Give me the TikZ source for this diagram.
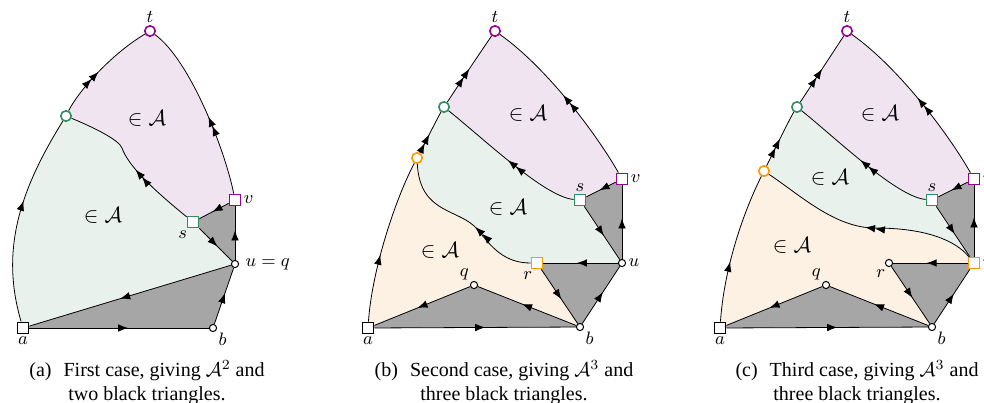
\documentclass[tikz,border=0pt]{standalone}
\usepackage[no-math]{fontspec}
\setmainfont{Liberation Serif}
\usepackage{amsmath,amssymb}
\usetikzlibrary{arrows.meta,decorations.markings,backgrounds}
\definecolor{plum}{HTML}{990099}
\definecolor{leaf}{HTML}{2E9060}
\definecolor{amber}{HTML}{FF9900}
\definecolor{lilac}{HTML}{F0E4F1}
\definecolor{mint}{HTML}{E8F1EB}
\definecolor{peach}{HTML}{FDF1E3}
\definecolor{ashgray}{HTML}{A6A6A6}
\tikzset{>={Latex[length=5pt,width=3.8pt]}, ring/.style={circle,draw=#1,fill=white,line width=0.8pt,inner sep=0pt,minimum size=5.2pt}, box/.style={rectangle,draw=#1,fill=white,line width=0.8pt,inner sep=0pt,minimum size=5.6pt}, dot/.style={circle,draw,fill=white,inner sep=0pt,minimum size=3.6pt,line width=0.5pt}, flow/.style={postaction={decorate},decoration={markings,mark=at position #1 with {\arrow{>}}}}, flow/.default=0.55, dflow/.style={postaction={decorate},decoration={markings,mark=at position #1 with {\arrow{>>}}}}, dflow/.default=0.5, lbl/.style={font=\small,inner sep=1pt}, member/.style={font=\fontsize{11}{13}\selectfont}, caption/.style={align=center,anchor=north,inner sep=0pt,font=\normalsize}}

\begin{document}
\begin{tikzpicture}[x=0.5pt,y=0.5pt]
\useasboundingbox (0,0) rectangle (984,-402);
\node[box=black,label={[lbl]below:$a$}] (a1) at (23,-328) {};
\node[dot,label={[lbl]-40:$b$}] (b1) at (213,-328) {};
\node[dot,label={[lbl,label distance=2pt]right:$u=q$}] (u1) at (235,-264) {};
\node[box=plum,label={[lbl]right:$v$}] (v1) at (235,-200) {};
\node[box=leaf,label={[lbl]-120:$s$}] (s1) at (193,-222) {};
\node[ring=leaf] (g1) at (66,-116) {};
\node[ring=plum,label={[lbl]above:$t$}] (t1) at (150,-31) {};
\begin{scope}[on background layer]
\fill[lilac] (g1.center) .. controls (78,-92) and (110,-55) .. (t1.center) .. controls (190,-60) and (225,-150) .. (v1.center) -- (s1.center) .. controls (150,-187) and (128,-165) .. (122,-148) .. controls (119,-140) and (95,-128) .. (g1.center);
\fill[mint] (a1.center) .. controls (0,-250) and (20,-190) .. (g1.center) .. controls (95,-128) and (119,-140) .. (122,-148) .. controls (128,-165) and (150,-187) .. (s1.center) -- (u1.center) -- cycle;
\fill[ashgray] (s1.center) -- (v1.center) -- (u1.center) -- cycle;
\fill[ashgray] (a1.center) -- (b1.center) -- (u1.center) -- cycle;
\end{scope}
\draw[flow=0.58] (a1) .. controls (0,-250) and (20,-190) .. (g1);
\draw[dflow=0.45] (g1) .. controls (78,-92) and (110,-55) .. (t1);
\draw[dflow=0.45] (v1) .. controls (225,-150) and (190,-60) .. (t1);
\draw[dflow=0.45] (s1) .. controls (150,-187) and (128,-165) .. (122,-148) .. controls (119,-140) and (95,-128) .. (g1);
\draw[flow] (s1) -- (u1);
\draw[flow] (u1) -- (v1);
\draw[flow] (v1) -- (s1);
\draw[flow] (u1) -- (a1);
\draw[flow] (a1) -- (b1);
\draw[flow] (b1) -- (u1);
\node[member] (m1) at (147,-118) {$\in\mathcal{A}$};
\node[member] (m2) at (103,-215) {$\in\mathcal{A}$};
\node[caption] (cap1) at (147,-360) {(a)\hspace{6pt}First case, giving $\mathcal{A}^2$ and\\two black triangles.};

\node[box=black,label={[lbl]below:$a$}] (a2) at (368,-328) {};
\node[dot,label={[lbl]-40:$b$}] (b2) at (580,-327) {};
\node[dot,label={[lbl]135:$q$}] (q2) at (474,-285) {};
\node[box=amber,label={[lbl]-110:$r$}] (r2) at (537,-263) {};
\node[dot,label={[lbl]right:$u$}] (u2) at (622,-263) {};
\node[box=leaf,label={[lbl]above:$s$}] (s2) at (580,-200) {};
\node[box=plum,label={[lbl]right:$v$}] (v2) at (622,-179) {};
\node[ring=amber] (o2) at (417,-158) {};
\node[ring=leaf] (g2) at (444,-107) {};
\node[ring=plum,label={[lbl]above:$t$}] (t2) at (495,-31) {};
\begin{scope}[on background layer]
\fill[lilac] (g2.center) .. controls (452,-95) and (475,-60) .. (t2.center) .. controls (550,-70) and (600,-140) .. (v2.center) -- (s2.center) .. controls (545,-197) and (485,-140) .. (g2.center);
\fill[mint] (o2.center) .. controls (425,-143) and (438,-117) .. (g2.center) .. controls (485,-140) and (545,-197) .. (s2.center) -- (u2.center) -- (r2.center) .. controls (505,-263) and (492,-248) .. (478,-230) .. controls (460,-208) and (420,-215) .. (o2.center);
\fill[peach] (a2.center) .. controls (372,-270) and (395,-200) .. (o2.center) .. controls (420,-215) and (460,-208) .. (478,-230) .. controls (492,-248) and (505,-263) .. (r2.center) -- (b2.center) -- (q2.center) -- cycle;
\fill[ashgray] (s2.center) -- (v2.center) -- (u2.center) -- cycle;
\fill[ashgray] (r2.center) -- (u2.center) -- (b2.center) -- cycle;
\fill[ashgray] (a2.center) -- (b2.center) -- (q2.center) -- cycle;
\end{scope}
\draw[flow=0.41] (a2) .. controls (372,-270) and (395,-200) .. (o2);
\draw[dflow=0.45] (o2) .. controls (425,-143) and (438,-117) .. (g2);
\draw[dflow] (g2) .. controls (452,-95) and (475,-60) .. (t2);
\draw[dflow=0.52] (v2) .. controls (600,-140) and (550,-70) .. (t2);
\draw[dflow] (s2) .. controls (545,-197) and (485,-140) .. (g2);
\draw[dflow=0.43] (r2) .. controls (505,-263) and (492,-248) .. (478,-230) .. controls (460,-208) and (420,-215) .. (o2);
\draw[flow] (s2) -- (u2);
\draw[flow] (u2) -- (v2);
\draw[flow] (v2) -- (s2);
\draw[flow] (u2) -- (r2);
\draw[flow] (r2) -- (b2);
\draw[flow] (b2) -- (u2);
\draw[flow] (b2) -- (q2);
\draw[flow] (q2) -- (a2);
\draw[flow] (a2) -- (b2);
\node[member] (m3) at (528,-113) {$\in\mathcal{A}$};
\node[member] (m4) at (508,-207) {$\in\mathcal{A}$};
\node[member] (m5) at (440,-250) {$\in\mathcal{A}$};
\node[caption] (cap2) at (504,-360) {(b)\hspace{6pt}Second case, giving $\mathcal{A}^3$ and\\three black triangles.};

\node[box=black,label={[lbl]below:$a$}] (a3) at (720,-328) {};
\node[dot,label={[lbl]-40:$b$}] (b3) at (932,-327) {};
\node[dot,label={[lbl]135:$q$}] (q3) at (826,-285) {};
\node[dot,label={[lbl]-110:$r$}] (r3) at (889,-263) {};
\node[box=amber,label={[lbl]right:$u$}] (u3) at (974,-263) {};
\node[box=leaf,label={[lbl]above:$s$}] (s3) at (932,-200) {};
\node[box=plum,label={[lbl]right:$v$}] (v3) at (974,-179) {};
\node[ring=amber] (o3) at (764,-171) {};
\node[ring=leaf] (g3) at (797,-107) {};
\node[ring=plum,label={[lbl]above:$t$}] (t3) at (847,-31) {};
\begin{scope}[on background layer]
\fill[lilac] (g3.center) .. controls (805,-95) and (828,-60) .. (t3.center) .. controls (902,-70) and (952,-140) .. (v3.center) -- (s3.center) .. controls (897,-197) and (838,-140) .. (g3.center);
\fill[mint] (o3.center) .. controls (771,-157) and (790,-118) .. (g3.center) .. controls (838,-140) and (897,-197) .. (s3.center) -- (u3.center) .. controls (955,-240) and (925,-228) .. (875,-228) .. controls (835,-228) and (800,-195) .. (o3.center);
\fill[peach] (a3.center) .. controls (724,-270) and (742,-215) .. (o3.center) .. controls (800,-195) and (835,-228) .. (875,-228) .. controls (925,-228) and (955,-240) .. (u3.center) -- (b3.center) -- (q3.center) -- cycle;
\fill[ashgray] (s3.center) -- (v3.center) -- (u3.center) -- cycle;
\fill[ashgray] (r3.center) -- (u3.center) -- (b3.center) -- cycle;
\fill[ashgray] (a3.center) -- (b3.center) -- (q3.center) -- cycle;
\end{scope}
\draw[flow=0.4] (a3) .. controls (724,-270) and (742,-215) .. (o3);
\draw[dflow] (o3) .. controls (771,-157) and (790,-118) .. (g3);
\draw[dflow] (g3) .. controls (805,-95) and (828,-60) .. (t3);
\draw[dflow] (v3) .. controls (952,-140) and (902,-70) .. (t3);
\draw[dflow] (s3) .. controls (897,-197) and (838,-140) .. (g3);
\draw[dflow] (u3) .. controls (955,-240) and (925,-228) .. (875,-228) .. controls (835,-228) and (800,-195) .. (o3);
\draw[flow] (s3) -- (u3);
\draw[flow] (u3) -- (v3);
\draw[flow] (v3) -- (s3);
\draw[flow] (u3) -- (r3);
\draw[flow] (r3) -- (b3);
\draw[flow] (b3) -- (u3);
\draw[flow] (b3) -- (q3);
\draw[flow] (q3) -- (a3);
\draw[flow] (a3) -- (b3);
\node[member] (m6) at (880,-113) {$\in\mathcal{A}$};
\node[member] (m7) at (830,-177) {$\in\mathcal{A}$};
\node[member] (m8) at (792,-245) {$\in\mathcal{A}$};
\node[caption] (cap3) at (857,-360) {(c)\hspace{6pt}Third case, giving $\mathcal{A}^3$ and\\three black triangles.};
\end{tikzpicture}
\end{document}
